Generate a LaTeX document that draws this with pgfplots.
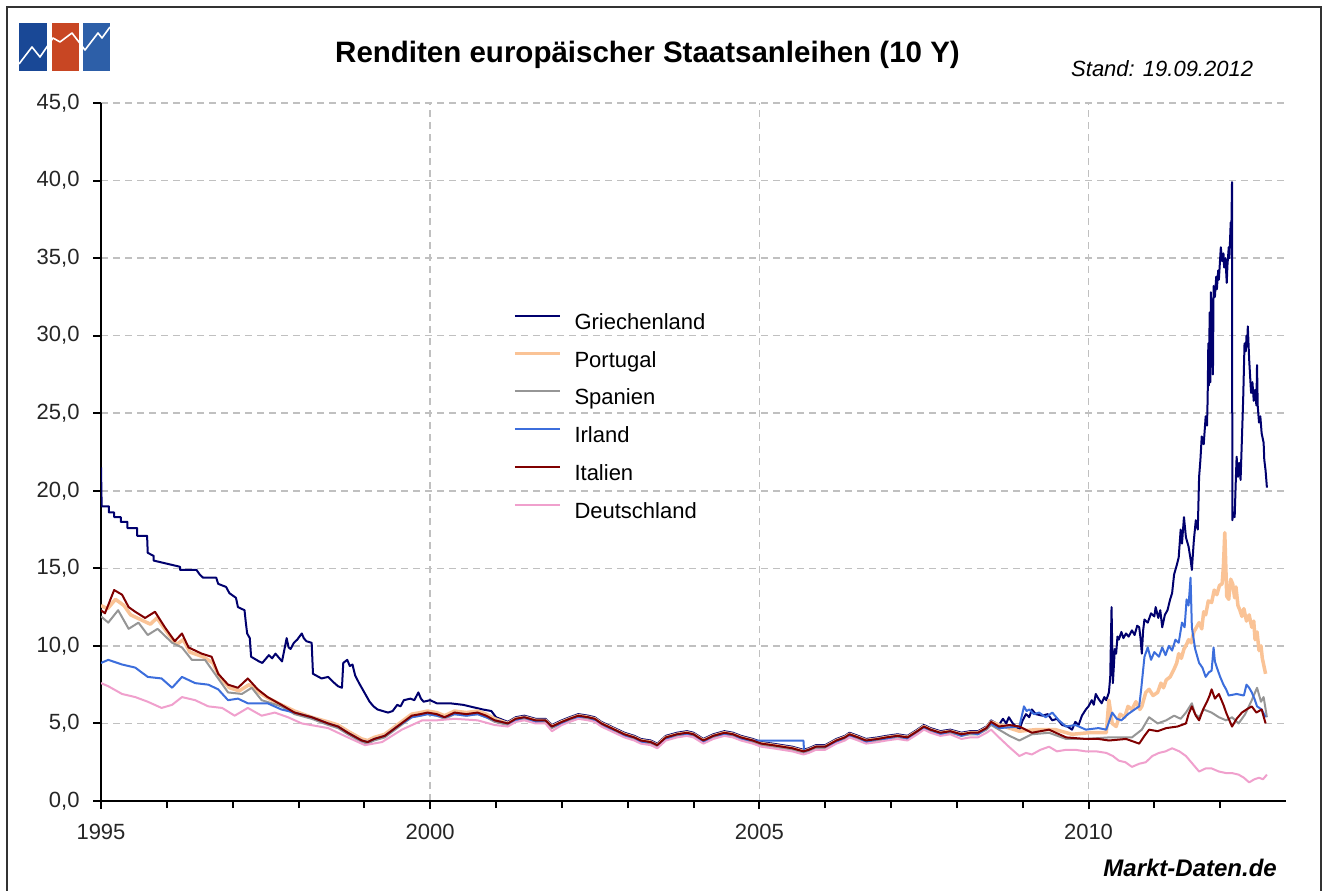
\documentclass[border=0pt]{standalone}
\usepackage{pgfplots}
\pgfplotsset{compat=1.18}
\usepackage{fontspec}
\setmainfont{Liberation Sans}
\definecolor{cGR}{RGB}{0,0,110}
\definecolor{cPT}{RGB}{250,195,150}
\definecolor{cES}{RGB}{150,150,150}
\definecolor{cIE}{RGB}{60,110,220}
\definecolor{cIT}{RGB}{128,0,0}
\definecolor{cDE}{RGB}{240,160,205}
\definecolor{gridc}{RGB}{192,192,192}
\definecolor{logoA}{RGB}{25,72,150}
\definecolor{logoB}{RGB}{200,70,35}
\definecolor{logoC}{RGB}{45,95,168}
\begin{document}
\begin{tikzpicture}[x=1pt,y=1pt]
\useasboundingbox (0,0) rectangle (1325,891);
\fill[white] (0,0) rectangle (1325,891);
\draw[line width=2pt, black!80] (6.5,0) -- (6.5,884) -- (1321,884) -- (1321,0);
% logo
\fill[logoA] (19,820) rectangle (47,868);
\fill[logoB] (52,820) rectangle (79,868);
\fill[logoC] (83,820) rectangle (110,868);
\draw[white, line width=1.6pt, line join=round] (19,827) -- (32,844) -- (40,834) -- (53,853) -- (60,849) -- (72,858) -- (85,841) -- (98,858) -- (102,853) -- (110,864);
\begin{axis}[
  at={(101pt,90pt)}, anchor=south west,
  width=1185pt, height=698pt, scale only axis,
  xmin=1995, xmax=2013, ymin=0, ymax=45,
  axis lines=left,
  axis line style={-, line width=2pt, black},
  xtick={1995,2000,2005,2010},
  minor xtick={1996,1997,1998,1999,2001,2002,2003,2004,2006,2007,2008,2009,2011,2012},
  ytick={0,5,...,45},
  tick align=outside,
  major tick length=8pt, minor tick length=7pt,
  tick style={black, line width=2pt},
  grid=major,
  major grid style={gridc, line width=1.5pt, dash pattern=on 7pt off 5pt},
  /pgf/number format/assume math mode=true,
  tick label style={font=\fontsize{22}{26}\selectfont, black!85},
  xticklabel style={yshift=-12pt, /pgf/number format/1000 sep={}},
  yticklabel style={xshift=-10pt, /pgf/number format/.cd, fixed, fixed zerofill, precision=1, use comma},
  legend cell align=left,
  legend style={at={(0.3477,0.6977)}, anchor=north west, draw=none, fill=none,
    font=\fontsize{22}{26}\selectfont, inner sep=0pt, outer sep=0pt, row sep=18.8pt,
    nodes={inner sep=0pt, text height=15pt, text depth=4pt}},
  legend image code/.code={\draw[#1] (0pt,8pt) -- (45pt,8pt); \path (58pt,0pt);},
  every axis plot/.append style={line join=round},
]
% Griechenland
\addplot[cGR, line width=2pt] coordinates {
(1995.00,21.5) (1995.01,19.0) (1995.12,19.0) (1995.12,18.6) (1995.20,18.6) (1995.20,18.3) (1995.30,18.3) (1995.30,18.0) (1995.40,18.0) (1995.40,17.6) (1995.55,17.6) (1995.55,17.1) (1995.70,17.1) (1995.71,16.0) (1995.80,15.8) (1995.80,15.5) (1996.00,15.3) (1996.20,15.1) (1996.20,14.9) (1996.45,14.9) (1996.50,14.6) (1996.55,14.4) (1996.75,14.4) (1996.78,14.0) (1996.90,13.8) (1996.95,13.4) (1997.05,13.1) (1997.08,12.5) (1997.18,12.3) (1997.20,11.5) (1997.22,10.8) (1997.26,10.5) (1997.28,9.3) (1997.40,9.0) (1997.45,8.9) (1997.55,9.4) (1997.60,9.2) (1997.65,9.5) (1997.75,9.0) (1997.82,10.5) (1997.85,9.9) (1997.88,9.8) (1997.93,10.2) (1997.98,10.4) (1998.05,10.8) (1998.08,10.5) (1998.12,10.3) (1998.20,10.2) (1998.22,8.2) (1998.35,7.9) (1998.45,8.0) (1998.52,7.7) (1998.60,7.4) (1998.66,7.3) (1998.68,8.9) (1998.74,9.1) (1998.78,8.7) (1998.82,8.8) (1998.86,8.1) (1998.92,7.6) (1999.00,7.0) (1999.08,6.4) (1999.14,6.1) (1999.20,5.9) (1999.36,5.7) (1999.43,5.8) (1999.50,6.2) (1999.55,6.1) (1999.60,6.5) (1999.70,6.6) (1999.76,6.5) (1999.82,7.0) (1999.86,6.6) (1999.90,6.4) (2000.00,6.5) (2000.10,6.3) (2000.30,6.3) (2000.50,6.2) (2000.70,6.0) (2000.80,5.9) (2000.93,5.8) (2001.00,5.4)
(2001.18,5.1) (2001.30,5.4) (2001.43,5.5) (2001.60,5.3) (2001.75,5.3) (2001.85,4.9) (2002.00,5.2) (2002.12,5.4) (2002.25,5.6) (2002.40,5.5) (2002.50,5.4) (2002.60,5.1) (2002.70,4.9) (2002.85,4.6) (2002.95,4.4) (2003.10,4.2) (2003.20,4.0) (2003.35,3.9) (2003.45,3.7) (2003.58,4.2) (2003.75,4.4) (2003.90,4.5) (2004.00,4.4) (2004.15,4.0) (2004.30,4.3) (2004.47,4.5) (2004.60,4.4) (2004.72,4.2) (2004.90,4.0) (2005.03,3.8) (2005.20,3.7) (2005.35,3.6) (2005.50,3.5) (2005.67,3.3) (2005.75,3.4) (2005.86,3.6) (2006.00,3.6) (2006.17,4.0) (2006.30,4.2) (2006.37,4.4) (2006.50,4.2) (2006.62,4.0) (2006.80,4.1) (2006.93,4.2) (2007.10,4.3) (2007.25,4.2) (2007.40,4.6) (2007.50,4.9) (2007.60,4.7) (2007.75,4.5) (2007.90,4.6) (2008.07,4.4) (2008.20,4.5) (2008.32,4.5) (2008.45,4.8) (2008.52,5.2)
(2008.64,4.9) (2008.70,5.3) (2008.75,5.0) (2008.79,5.4) (2008.85,5.0) (2008.95,4.6) (2009.00,5.2) (2009.05,5.6) (2009.10,5.4) (2009.14,5.9) (2009.20,5.6) (2009.30,5.5) (2009.38,5.6) (2009.45,5.2) (2009.52,5.3) (2009.60,4.9) (2009.68,4.8) (2009.75,4.6) (2009.80,5.1) (2009.85,4.9) (2009.90,5.5) (2009.96,5.9) (2010.00,6.1) (2010.05,6.5) (2010.08,6.2) (2010.11,6.9) (2010.15,6.6) (2010.20,6.3) (2010.24,6.7) (2010.27,6.5) (2010.31,7.0) (2010.33,8.0) (2010.35,12.5) (2010.37,7.6) (2010.40,9.8) (2010.42,9.5) (2010.44,10.6) (2010.46,10.4) (2010.50,10.9) (2010.53,10.5) (2010.57,10.8) (2010.61,10.6) (2010.66,11.0) (2010.70,10.7) (2010.74,11.3) (2010.77,11.2) (2010.79,10.5) (2010.81,9.5) (2010.83,11.0) (2010.85,11.7) (2010.90,11.5) (2010.95,12.1) (2011.00,11.9) (2011.02,12.5) (2011.06,11.8) (2011.09,12.3) (2011.12,11.2) (2011.16,12.0) (2011.20,12.3) (2011.24,13.0) (2011.27,13.4) (2011.30,14.6) (2011.34,15.2) (2011.37,15.7) (2011.40,17.5) (2011.42,16.6) (2011.45,18.3) (2011.48,17.0) (2011.52,16.4) (2011.55,15.6) (2011.57,14.9) (2011.60,16.8) (2011.63,18.1) (2011.66,17.5) (2011.68,20.9) (2011.70,22.0) (2011.72,23.5) (2011.75,23.0) (2011.78,24.8) (2011.80,24.2) (2011.81,26.0) (2011.82,29.5) (2011.83,26.8) (2011.84,31.5) (2011.85,27.0) (2011.86,32.8) (2011.87,28.0) (2011.88,30.5) (2011.89,27.5) (2011.90,33.2) (2011.92,32.5) (2011.94,33.8) (2011.95,33.0) (2011.97,34.2) (2011.98,33.6) (2012.00,35.0) (2012.01,35.7) (2012.03,34.8) (2012.05,35.3) (2012.06,34.4) (2012.08,35.0) (2012.10,33.4) (2012.11,34.5) (2012.13,35.7) (2012.14,35.0) (2012.16,37.3) (2012.17,36.8) (2012.18,39.9) (2012.185,18.1) (2012.20,18.6) (2012.22,18.3) (2012.24,21.0) (2012.25,22.2) (2012.27,20.9) (2012.29,21.8) (2012.31,20.7) (2012.33,23.3) (2012.35,26.0) (2012.37,29.5) (2012.39,29.0) (2012.40,30.0) (2012.41,29.3) (2012.42,30.6) (2012.44,28.5) (2012.46,27.0) (2012.47,26.3) (2012.49,27.0) (2012.51,25.8) (2012.53,26.5) (2012.55,25.5) (2012.56,28.1) (2012.57,25.5) (2012.59,24.4) (2012.61,24.8) (2012.63,23.7) (2012.66,23.1) (2012.67,22.0) (2012.69,21.3) (2012.71,20.2)
};
\addlegendentry{Griechenland}
% Portugal
\addplot[cPT, line width=3.5pt] coordinates {
(1995.00,12.6) (1995.10,12.4) (1995.22,13.0) (1995.35,12.6) (1995.45,12.0) (1995.60,11.7) (1995.75,11.4) (1995.85,11.8) (1996.00,10.9) (1996.15,10.1) (1996.25,10.4) (1996.35,9.6) (1996.55,9.3) (1996.70,8.9) (1996.80,8.0) (1996.95,7.3) (1997.10,7.1) (1997.25,7.5) (1997.40,7.0) (1997.55,6.6) (1997.74,6.2) (1997.94,5.8) (1998.20,5.4) (1998.45,5.1) (1998.60,4.9) (1998.75,4.5) (1998.96,4.0) (1999.05,3.9) (1999.15,4.1) (1999.31,4.3) (1999.50,4.9) (1999.72,5.6) (1999.85,5.7) (1999.96,5.8) (2000.10,5.7) (2000.22,5.5) (2000.37,5.8) (2000.55,5.7) (2000.72,5.8) (2000.85,5.6) (2000.98,5.3)
(2001.18,5.0) (2001.30,5.3) (2001.43,5.4) (2001.60,5.2) (2001.75,5.2) (2001.85,4.8) (2002.00,5.1) (2002.12,5.3) (2002.25,5.5) (2002.40,5.4) (2002.50,5.3) (2002.60,5.0) (2002.70,4.8) (2002.85,4.5) (2002.95,4.3) (2003.10,4.1) (2003.20,3.9) (2003.35,3.8) (2003.45,3.6) (2003.58,4.1) (2003.75,4.3) (2003.90,4.4) (2004.00,4.3) (2004.15,3.9) (2004.30,4.2) (2004.47,4.4) (2004.60,4.3) (2004.72,4.1) (2004.90,3.9) (2005.03,3.7) (2005.20,3.6) (2005.35,3.5) (2005.50,3.4) (2005.67,3.2) (2005.75,3.3) (2005.86,3.5) (2006.00,3.5) (2006.17,3.9) (2006.30,4.1) (2006.37,4.3) (2006.50,4.1) (2006.62,3.9) (2006.80,4.0) (2006.93,4.1) (2007.10,4.2) (2007.25,4.1) (2007.40,4.5) (2007.50,4.8) (2007.60,4.6) (2007.75,4.4) (2007.90,4.5) (2008.07,4.3) (2008.20,4.4) (2008.32,4.4) (2008.45,4.7) (2008.52,5.1)
(2008.64,4.9) (2008.80,4.7) (2008.95,4.5) (2009.20,4.6) (2009.50,4.6) (2009.75,4.3) (2010.00,4.4) (2010.27,4.4) (2010.31,6.5) (2010.36,5.0) (2010.42,4.8) (2010.48,5.6) (2010.55,5.4) (2010.60,6.1) (2010.66,5.9) (2010.72,6.4) (2010.78,5.9) (2010.81,6.1) (2010.87,7.0) (2010.92,7.2) (2010.98,6.8) (2011.05,7.0) (2011.10,7.6) (2011.14,7.3) (2011.18,7.8) (2011.24,8.0) (2011.30,8.5) (2011.34,8.9) (2011.37,9.5) (2011.41,9.2) (2011.45,9.8) (2011.49,10.1) (2011.52,10.4) (2011.56,10.2) (2011.60,10.9) (2011.64,11.2) (2011.68,11.5) (2011.72,11.1) (2011.75,12.2) (2011.78,12.0) (2011.82,12.9) (2011.87,12.8) (2011.91,13.6) (2011.95,13.3) (2011.99,13.9) (2012.03,14.0) (2012.05,15.2) (2012.07,17.3) (2012.09,14.5) (2012.10,13.2) (2012.13,13.0) (2012.16,14.3) (2012.19,14.0) (2012.22,13.1) (2012.24,13.8) (2012.27,12.6) (2012.30,12.3) (2012.33,11.9) (2012.36,12.4) (2012.40,11.6) (2012.44,12.0) (2012.48,11.2) (2012.51,11.6) (2012.53,10.4) (2012.56,10.9) (2012.59,9.7) (2012.62,10.0) (2012.64,9.2) (2012.67,8.6) (2012.69,8.2)
};
\addlegendentry{Portugal}
% Spanien
\addplot[cES, line width=2pt] coordinates {
(1995.00,11.9) (1995.11,11.5) (1995.26,12.3) (1995.42,11.1) (1995.57,11.5) (1995.71,10.7) (1995.86,11.1) (1996.08,10.2) (1996.23,9.9) (1996.38,9.1) (1996.58,9.1) (1996.73,8.2) (1996.93,7.0) (1997.14,6.9) (1997.29,7.3) (1997.44,6.5) (1997.74,6.1) (1997.94,5.6) (1998.20,5.3) (1998.45,4.9) (1998.60,4.7) (1998.75,4.3) (1998.96,3.8) (1999.05,3.7) (1999.15,3.9) (1999.31,4.1) (1999.50,4.7) (1999.72,5.4) (1999.85,5.5) (1999.96,5.6) (2000.10,5.5) (2000.22,5.3) (2000.37,5.6) (2000.55,5.5) (2000.72,5.6) (2000.85,5.4) (2000.98,5.1)
(2001.18,4.9) (2001.30,5.2) (2001.43,5.3) (2001.60,5.1) (2001.75,5.1) (2001.85,4.7) (2002.00,5.0) (2002.12,5.2) (2002.25,5.4) (2002.40,5.3) (2002.50,5.2) (2002.60,4.9) (2002.70,4.7) (2002.85,4.4) (2002.95,4.2) (2003.10,4.0) (2003.20,3.8) (2003.35,3.7) (2003.45,3.5) (2003.58,4.0) (2003.75,4.2) (2003.90,4.3) (2004.00,4.2) (2004.15,3.8) (2004.30,4.1) (2004.47,4.3) (2004.60,4.2) (2004.72,4.0) (2004.90,3.8) (2005.03,3.6) (2005.20,3.5) (2005.35,3.4) (2005.50,3.3) (2005.67,3.1) (2005.75,3.2) (2005.86,3.4) (2006.00,3.4) (2006.17,3.8) (2006.30,4.0) (2006.37,4.2) (2006.50,4.0) (2006.62,3.8) (2006.80,3.9) (2006.93,4.0) (2007.10,4.1) (2007.25,4.0) (2007.40,4.4) (2007.50,4.7) (2007.60,4.5) (2007.75,4.3) (2007.90,4.4) (2008.07,4.2) (2008.20,4.3) (2008.32,4.3) (2008.45,4.6) (2008.52,4.9) (2008.60,4.7)
(2008.64,4.6) (2008.80,4.2) (2008.95,3.9) (2009.14,4.3) (2009.40,4.4) (2009.66,4.0) (2009.96,4.0) (2010.31,4.1) (2010.66,4.1) (2010.81,4.6) (2010.92,5.4) (2011.05,5.0) (2011.18,5.2) (2011.30,5.5) (2011.40,5.3) (2011.48,5.7) (2011.57,6.3) (2011.62,5.6) (2011.68,5.4) (2011.75,5.9) (2011.87,5.7) (2011.98,5.4) (2012.09,5.2) (2012.18,5.4) (2012.28,5.0) (2012.38,5.6) (2012.48,6.5) (2012.56,7.3) (2012.62,6.4) (2012.66,6.7) (2012.71,5.4)
};
\addlegendentry{Spanien}
% Irland
\addplot[cIE, line width=2pt] coordinates {
(1995.00,8.9) (1995.11,9.1) (1995.32,8.8) (1995.52,8.6) (1995.71,8.0) (1995.92,7.9) (1996.08,7.3) (1996.23,8.0) (1996.43,7.6) (1996.63,7.5) (1996.78,7.2) (1996.93,6.5) (1997.08,6.6) (1997.23,6.3) (1997.53,6.3) (1997.74,5.9) (1997.94,5.7) (1998.20,5.4) (1998.45,5.0) (1998.60,4.8) (1998.75,4.4) (1998.96,3.9) (1999.05,3.8) (1999.15,4.0) (1999.31,4.2) (1999.50,4.8) (1999.72,5.4) (1999.85,5.5) (1999.96,5.6) (2000.10,5.5) (2000.22,5.4) (2000.37,5.6) (2000.55,5.5) (2000.72,5.6) (2000.85,5.4) (2000.98,5.2)
(2001.18,5.0) (2001.30,5.2) (2001.43,5.4) (2001.60,5.1) (2001.75,5.2) (2001.85,4.8) (2002.00,5.0) (2002.12,5.3) (2002.25,5.4) (2002.40,5.4) (2002.50,5.2) (2002.60,5.0) (2002.70,4.7) (2002.85,4.5) (2002.95,4.2) (2003.10,4.1) (2003.20,3.8) (2003.35,3.8) (2003.45,3.6) (2003.58,4.0) (2003.75,4.3) (2003.90,4.3) (2004.00,4.3) (2004.15,3.8) (2004.30,4.2) (2004.47,4.3) (2004.60,4.3) (2004.72,4.0) (2004.90,3.9) (2005.03,3.9) (2005.67,3.9) (2005.68,3.2) (2005.75,3.3) (2005.86,3.5) (2006.00,3.5) (2006.17,3.8) (2006.30,4.1) (2006.37,4.2) (2006.50,4.1) (2006.62,3.8) (2006.80,4.0) (2006.93,4.0) (2007.10,4.2) (2007.25,4.0) (2007.40,4.5) (2007.50,4.7) (2007.60,4.6) (2007.75,4.3) (2007.90,4.5) (2008.07,4.2) (2008.20,4.4) (2008.32,4.3) (2008.45,4.7) (2008.52,5.0) (2008.60,4.8)
(2008.64,4.7) (2008.95,4.8) (2009.02,6.1) (2009.06,5.8) (2009.10,5.9) (2009.17,5.6) (2009.25,5.7) (2009.35,5.4) (2009.45,5.7) (2009.55,5.2) (2009.66,4.8) (2009.80,4.9) (2009.96,4.6) (2010.15,4.7) (2010.27,4.6) (2010.36,5.7) (2010.43,5.3) (2010.50,5.2) (2010.60,5.6) (2010.70,5.9) (2010.77,6.1) (2010.80,7.2) (2010.85,9.3) (2010.90,9.9) (2010.95,9.1) (2011.00,9.6) (2011.07,9.3) (2011.12,9.9) (2011.17,9.4) (2011.22,10.0) (2011.27,9.7) (2011.32,10.4) (2011.37,10.2) (2011.42,11.5) (2011.46,11.2) (2011.49,13.0) (2011.52,12.6) (2011.55,14.4) (2011.57,11.2) (2011.62,9.8) (2011.68,8.9) (2011.73,8.6) (2011.78,8.0) (2011.83,8.3) (2011.87,8.4) (2011.90,9.9) (2011.92,9.0) (2011.95,8.6) (2012.00,8.0) (2012.05,7.5) (2012.09,7.2) (2012.13,6.8) (2012.25,6.9) (2012.36,6.8) (2012.40,7.5) (2012.44,7.3) (2012.48,7.0) (2012.52,6.6) (2012.56,6.1) (2012.63,5.9) (2012.69,5.4)
};
\addlegendentry{Irland}
% Italien
\addplot[cIT, line width=2pt] coordinates {
(1995.00,12.3) (1995.06,12.1) (1995.20,13.6) (1995.32,13.3) (1995.42,12.5) (1995.52,12.2) (1995.67,11.8) (1995.82,12.2) (1995.97,11.2) (1996.12,10.3) (1996.23,10.8) (1996.33,9.9) (1996.53,9.5) (1996.68,9.3) (1996.78,8.2) (1996.93,7.5) (1997.08,7.3) (1997.23,7.9) (1997.38,7.2) (1997.53,6.7) (1997.74,6.2) (1997.94,5.7) (1998.20,5.4) (1998.45,5.0) (1998.60,4.8) (1998.75,4.4) (1998.96,3.9) (1999.05,3.8) (1999.15,4.0) (1999.31,4.2) (1999.50,4.8) (1999.72,5.5) (1999.85,5.6) (1999.96,5.7) (2000.10,5.6) (2000.22,5.4) (2000.37,5.7) (2000.55,5.6) (2000.72,5.7) (2000.85,5.5) (2000.98,5.2)
(2001.18,5.0) (2001.30,5.3) (2001.43,5.4) (2001.60,5.2) (2001.75,5.2) (2001.85,4.8) (2002.00,5.1) (2002.12,5.3) (2002.25,5.5) (2002.40,5.4) (2002.50,5.3) (2002.60,5.0) (2002.70,4.8) (2002.85,4.5) (2002.95,4.3) (2003.10,4.1) (2003.20,3.9) (2003.35,3.8) (2003.45,3.6) (2003.58,4.1) (2003.75,4.3) (2003.90,4.4) (2004.00,4.3) (2004.15,3.9) (2004.30,4.2) (2004.47,4.4) (2004.60,4.3) (2004.72,4.1) (2004.90,3.9) (2005.03,3.7) (2005.20,3.6) (2005.35,3.5) (2005.50,3.4) (2005.67,3.2) (2005.75,3.3) (2005.86,3.5) (2006.00,3.5) (2006.17,3.9) (2006.30,4.1) (2006.37,4.3) (2006.50,4.1) (2006.62,3.9) (2006.80,4.0) (2006.93,4.1) (2007.10,4.2) (2007.25,4.1) (2007.40,4.5) (2007.50,4.8) (2007.60,4.6) (2007.75,4.4) (2007.90,4.5) (2008.07,4.3) (2008.20,4.4) (2008.32,4.4) (2008.45,4.7) (2008.52,5.1) (2008.60,4.9)
(2008.64,4.8) (2008.80,4.9) (2008.95,4.8) (2009.14,4.4) (2009.40,4.6) (2009.66,4.1) (2009.96,4.0) (2010.15,4.0) (2010.31,3.9) (2010.57,4.0) (2010.77,3.7) (2010.85,4.2) (2010.92,4.6) (2011.05,4.5) (2011.18,4.7) (2011.35,4.8) (2011.48,5.0) (2011.52,5.6) (2011.57,6.1) (2011.63,5.5) (2011.68,5.2) (2011.74,5.9) (2011.80,6.4) (2011.84,6.8) (2011.87,7.2) (2011.92,6.6) (2011.98,6.9) (2012.02,6.5) (2012.05,6.2) (2012.09,5.7) (2012.14,5.2) (2012.18,4.8) (2012.25,5.3) (2012.33,5.7) (2012.40,5.9) (2012.48,6.1) (2012.55,5.7) (2012.63,5.9) (2012.69,5.0)
};
\addlegendentry{Italien}
% Deutschland
\addplot[cDE, line width=2pt] coordinates {
(1995.00,7.6) (1995.11,7.4) (1995.32,6.9) (1995.52,6.7) (1995.71,6.4) (1995.92,6.0) (1996.08,6.2) (1996.23,6.7) (1996.43,6.5) (1996.63,6.1) (1996.84,6.0) (1997.03,5.5) (1997.23,6.0) (1997.44,5.5) (1997.64,5.7) (1997.84,5.4) (1998.05,5.0) (1998.45,4.7) (1998.75,4.1) (1999.01,3.6) (1999.27,3.8) (1999.57,4.6) (1999.88,5.2) (2000.10,5.2) (2000.37,5.3) (2000.72,5.2) (2000.98,4.9)
(2001.18,4.8) (2001.30,5.1) (2001.43,5.2) (2001.60,5.0) (2001.75,5.0) (2001.85,4.5) (2002.00,4.9) (2002.12,5.1) (2002.25,5.3) (2002.40,5.2) (2002.50,5.1) (2002.60,4.8) (2002.70,4.6) (2002.85,4.3) (2002.95,4.1) (2003.10,3.9) (2003.20,3.7) (2003.35,3.6) (2003.45,3.4) (2003.58,3.9) (2003.75,4.1) (2003.90,4.2) (2004.00,4.1) (2004.15,3.7) (2004.30,4.0) (2004.47,4.2) (2004.60,4.1) (2004.72,3.9) (2004.90,3.7) (2005.03,3.5) (2005.20,3.4) (2005.35,3.3) (2005.50,3.2) (2005.67,3.0) (2005.75,3.1) (2005.86,3.3) (2006.00,3.3) (2006.17,3.7) (2006.30,3.9) (2006.37,4.1) (2006.50,3.9) (2006.62,3.7) (2006.80,3.8) (2006.93,3.9) (2007.10,4.0) (2007.25,3.9) (2007.40,4.3) (2007.50,4.6) (2007.60,4.4) (2007.75,4.2) (2007.90,4.3) (2008.07,4.0) (2008.20,4.1) (2008.32,4.1) (2008.45,4.4) (2008.52,4.6)
(2008.64,4.1) (2008.79,3.5) (2008.95,2.9) (2009.05,3.1) (2009.14,3.0) (2009.27,3.3) (2009.40,3.5) (2009.52,3.2) (2009.66,3.3) (2009.80,3.3) (2009.96,3.2) (2010.12,3.2) (2010.27,3.1) (2010.37,2.9) (2010.46,2.6) (2010.56,2.5) (2010.66,2.2) (2010.77,2.4) (2010.87,2.5) (2010.97,2.9) (2011.07,3.1) (2011.17,3.2) (2011.27,3.4) (2011.38,3.2) (2011.48,2.9) (2011.58,2.4) (2011.68,1.9) (2011.78,2.1) (2011.87,2.1) (2011.98,1.9) (2012.09,1.8) (2012.18,1.8) (2012.28,1.7) (2012.36,1.5) (2012.44,1.2) (2012.52,1.4) (2012.59,1.5) (2012.65,1.4) (2012.71,1.7)
};
\addlegendentry{Deutschland}
\end{axis}
\node[anchor=base, font=\fontsize{29.5}{34}\selectfont\bfseries] at (647.5,828) {Renditen europäischer Staatsanleihen (10 Y)};
\node[anchor=base west, inner sep=0pt, font=\fontsize{22}{26}\selectfont\itshape] at (1071,814) {Stand: 19.09.2012};
\node[anchor=base east, inner sep=0pt, font=\fontsize{24}{28}\selectfont\bfseries\itshape] at (1277,14) {Markt-Daten.de};
\end{tikzpicture}
\end{document}
